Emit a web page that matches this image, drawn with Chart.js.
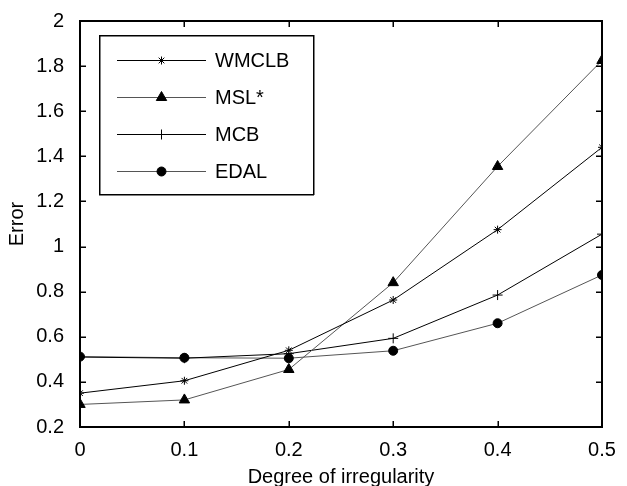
<!DOCTYPE html>
<html>
<head>
<meta charset="utf-8">
<script src="https://cdn.jsdelivr.net/npm/chart.js@4/dist/chart.umd.min.js"></script>
<style>
  html, body { margin: 0; padding: 0; background: #fff; }
  #wrap { width: 627px; height: 486px; }
</style>
</head>
<body>
<div id="wrap"><canvas id="grafico" width="627" height="486"></canvas></div>
<script>
// dados
const xValues = [0, 0.1, 0.2, 0.3, 0.4, 0.5];
const seriesNames = ['WMCLB', 'MSL*', 'MCB', 'EDAL'];
const wmclb = [0.35, 0.405, 0.54, 0.763, 1.075, 1.44];
const msl = [0.30, 0.32, 0.455, 0.84, 1.355, 1.825];
const mcb = [0.51, 0.505, 0.525, 0.593, 0.785, 1.055];
const edal = [0.512, 0.507, 0.505, 0.538, 0.66, 0.874];
const xTicks = [0, 0.1, 0.2, 0.3, 0.4, 0.5];
const yTicks = [0.2, 0.4, 0.6, 0.8, 1, 1.2, 1.4, 1.6, 1.8, 2];

const FONT = 'Liberation Sans, Arial, sans-serif';
const FS = 20;

function pares(ys) {
    return xValues.map((x, i) => ({ x: x, y: ys[i] }));
}

const estilos = [
    { cor: '#000000', ponto: 'star', raio: 4 },
    { cor: '#555555', ponto: 'triangle', raio: 6 },
    { cor: '#000000', ponto: 'cross', raio: 5 },
    { cor: '#555555', ponto: 'circle', raio: 4.5 }
];

const datasets = [wmclb, msl, mcb, edal].map((ys, i) => ({
    label: seriesNames[i],
    data: pares(ys),
    borderColor: estilos[i].cor,
    borderWidth: 1,
    pointStyle: estilos[i].ponto,
    pointRadius: estilos[i].raio,
    pointBackgroundColor: '#000',
    pointBorderColor: '#000',
    pointBorderWidth: 1,
    tension: 0,
    fill: false
}));

// moldura + ticks para dentro (estilo MATLAB)
const molduraPlugin = {
    id: 'moldura',
    afterDraw(chart) {
        const ctx = chart.ctx;
        const a = chart.chartArea;
        const sx = chart.scales.x, sy = chart.scales.y;
        const L = Math.round(a.left), R = Math.round(a.right);
        const T = Math.round(a.top), B = Math.round(a.bottom);
        ctx.save();
        ctx.fillStyle = '#000';
        // caixa
        ctx.fillRect(L - 1, T - 1, R - L + 2, 2);
        ctx.fillRect(L - 1, B - 1, R - L + 2, 2);
        ctx.fillRect(L - 1, T - 1, 2, B - T + 2);
        ctx.fillRect(R - 1, T - 1, 2, B - T + 2);
        // ticks
        xTicks.forEach(v => {
            const px = Math.round(sx.getPixelForValue(v));
            ctx.fillRect(px - 0.5, B - 6, 1.5, 6);
            ctx.fillRect(px - 0.5, T, 1.5, 6);
        });
        yTicks.forEach(v => {
            const py = Math.round(sy.getPixelForValue(v));
            ctx.fillRect(L, py - 0.5, 6, 1.5);
            ctx.fillRect(R - 6, py - 0.5, 6, 1.5);
        });

        // legenda
        const bx = L + 19, by = T + 14, bw = 214, bh = 159;
        ctx.fillStyle = '#fff';
        ctx.fillRect(bx, by, bw, bh);
        ctx.fillStyle = '#000';
        ctx.fillRect(bx, by, bw + 1, 1.5);
        ctx.fillRect(bx, by + bh, bw + 1, 1.5);
        ctx.fillRect(bx, by, 1.5, bh + 1);
        ctx.fillRect(bx + bw, by, 1.5, bh + 1);
        ctx.font = FS + 'px ' + FONT;
        ctx.textBaseline = 'middle';
        chart.data.datasets.forEach((ds, i) => {
            const y = Math.round(by + 25 + i * 37);
            ctx.fillStyle = ds.borderColor;
            ctx.fillRect(bx + 18, y, 89, 1);
            ctx.fillStyle = '#000';
            ctx.strokeStyle = '#000';
            ctx.lineWidth = 1;
            Chart.helpers.drawPoint(ctx, {
                pointStyle: ds.pointStyle, radius: ds.pointRadius, rotation: 0, borderWidth: 1
            }, bx + 62.5, y + 0.5);
            ctx.fillStyle = '#000';
            ctx.fillText(ds.label, bx + 116, y + 1);
        });
        ctx.restore();
    }
};

new Chart(document.getElementById('grafico'), {
    type: 'line',
    data: { datasets: datasets },
    options: {
        responsive: false,
        animation: false,
        layout: { padding: { left: 0, top: 21, right: 25, bottom: 0 } },
        plugins: { legend: { display: false }, tooltip: { enabled: false } },
        scales: {
            x: {
                type: 'linear', min: 0, max: 0.5,
                afterBuildTicks: s => { s.ticks = xTicks.map(v => ({ value: v })); },
                afterFit: s => { s.height = 59; },
                grid: { display: false },
                border: { display: false },
                ticks: { color: '#000', font: { family: FONT, size: FS }, padding: 3,
                    maxRotation: 0, callback: v => String(Number(v.toFixed(1))) },
                title: { display: true, text: 'Degree of irregularity', color: '#000',
                    font: { family: FONT, size: FS }, padding: { top: 0, bottom: -3 } }
            },
            y: {
                min: 0.2, max: 2,
                afterBuildTicks: s => { s.ticks = yTicks.map(v => ({ value: v })); },
                afterFit: s => { s.width = 80; },
                grid: { display: false },
                border: { display: false },
                ticks: { color: '#000', font: { family: FONT, size: FS }, padding: 8,
                    callback: v => String(Number(v.toFixed(1))) },
                title: { display: true, text: 'Error', color: '#000',
                    font: { family: FONT, size: FS }, padding: { top: 5, bottom: 0 } }
            }
        }
    },
    plugins: [molduraPlugin]
});
</script>
</body>
</html>
